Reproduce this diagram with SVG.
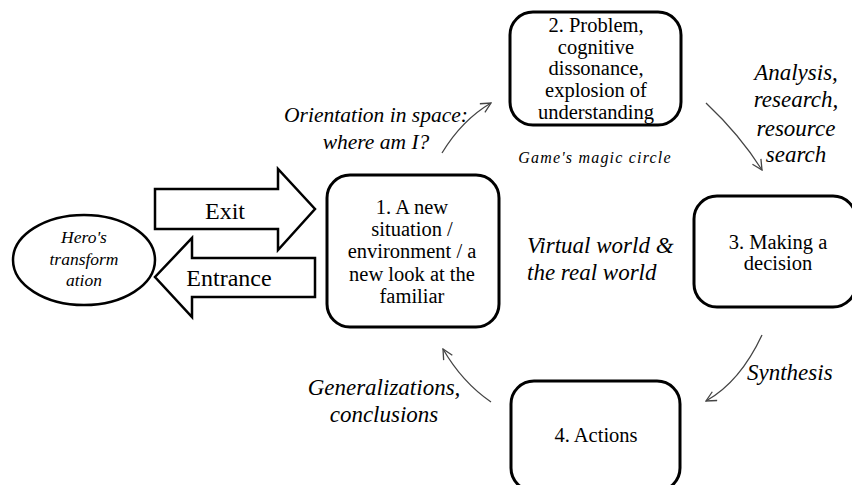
<svg xmlns="http://www.w3.org/2000/svg" width="852" height="485" viewBox="0 0 852 485" font-family="Liberation Serif, serif">
<style>
.box{fill:#fff;stroke:#000;stroke-width:3}
.big{fill:#fff;stroke:#000;stroke-width:2.5}
.c{fill:none;stroke:#444;stroke-width:1.3}
</style>
<defs>
<marker id="ah" viewBox="0 0 12 12" refX="11" refY="6" markerWidth="12" markerHeight="12" markerUnits="userSpaceOnUse" orient="auto">
<path d="M1,1 L11,6 L1,11" fill="none" stroke="#444" stroke-width="1.3"/>
</marker>
</defs>
<g id="hero" font-style="italic" font-size="17.5" text-anchor="middle">
<ellipse cx="84" cy="260" rx="71" ry="45" fill="#fff" stroke="#000" stroke-width="2.5"/>
<text x="84" y="243">Hero's</text>
<text x="84" y="265">transform</text>
<text x="84" y="286">ation</text>
</g>
<g id="exit" font-size="24" text-anchor="middle">
<path class="big" d="M155,189 L278,189 L278,169 L315,209 L278,250 L278,229 L155,229 Z"/>
<text x="225" y="219">Exit</text>
</g>
<g id="entrance" font-size="24" text-anchor="middle">
<path class="big" d="M315,258 L192,258 L192,238 L155,277 L192,317 L192,297 L315,297 Z"/>
<text x="229" y="286">Entrance</text>
</g>
<g id="n1" font-size="20.5" text-anchor="middle">
<rect class="box" x="327" y="175" width="172" height="152" rx="23"/>
<text x="412" y="214">1. A new</text>
<text x="412" y="236">situation /</text>
<text x="412" y="258">environment / a</text>
<text x="412" y="281">new look at the</text>
<text x="412" y="303">familiar</text>
</g>
<g id="n2" font-size="20.5" text-anchor="middle">
<rect class="box" x="510" y="12" width="171" height="113" rx="23"/>
<text x="596" y="32">2. Problem,</text>
<text x="596" y="54">cognitive</text>
<text x="596" y="75">dissonance,</text>
<text x="596" y="97">explosion of</text>
<text x="596" y="119">understanding</text>
</g>
<g id="n3" font-size="20.5" text-anchor="middle">
<rect class="box" x="694" y="196" width="162" height="111" rx="23"/>
<text x="778" y="249">3. Making a</text>
<text x="778" y="270">decision</text>
</g>
<g id="n4" font-size="20.5" text-anchor="middle">
<rect class="box" x="511" y="381" width="169" height="110" rx="23"/>
<text x="596" y="442">4. Actions</text>
</g>
<g id="labels" font-style="italic" font-size="23">
<text font-size="21.5" text-anchor="middle" x="376" y="122">Orientation in space:</text>
<text font-size="21.5" text-anchor="middle" x="376" y="149">where am I?</text>
<text font-size="16" letter-spacing="1.2" text-anchor="middle" x="595" y="163">Game's magic circle</text>
<text text-anchor="middle" x="796" y="80">Analysis,</text>
<text text-anchor="middle" x="796" y="107">research,</text>
<text text-anchor="middle" x="796" y="136">resource</text>
<text text-anchor="middle" x="796" y="162">search</text>
<text x="527" y="253">Virtual world &amp;</text>
<text x="527" y="280">the real world</text>
<text x="747" y="380">Synthesis</text>
<text text-anchor="middle" x="384" y="395">Generalizations,</text>
<text text-anchor="middle" x="384" y="422">conclusions</text>
</g>
<g id="connectors">
<path class="c" d="M442,153 Q462,120 491,103" marker-end="url(#ah)"/>
<path class="c" d="M706,103 Q740,135 762,170" marker-end="url(#ah)"/>
<path class="c" d="M762,335 Q740,382 706,401" marker-end="url(#ah)"/>
<path class="c" d="M491,402 Q462,382 443,349" marker-end="url(#ah)"/>
</g>
</svg>
